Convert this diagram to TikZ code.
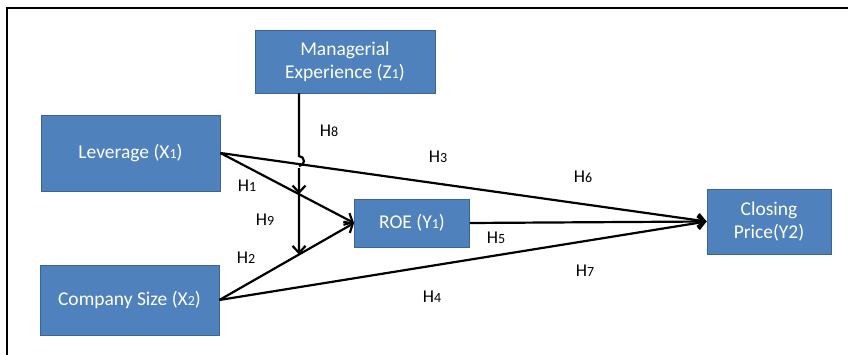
\documentclass[tikz,border=0pt]{standalone}
\usepackage{fontspec}
\setmainfont{Carlito}
\usetikzlibrary{arrows.meta}
\definecolor{boxfill}{HTML}{4F81BD}
\definecolor{boxline}{HTML}{3A6595}
\newcommand{\dg}[1]{{\fontsize{14}{14}\selectfont #1}}
\begin{document}
\begin{tikzpicture}[x=1pt,y=-1pt,
  vbox/.style={draw=boxline,fill=boxfill,line width=0.8pt,text=white,align=center,
    font=\fontsize{19.5}{23}\selectfont,inner sep=0pt},
  conn/.style={line width=2.2pt,draw=black},
  tip/.style={-{Straight Barb[length=7pt,width=13pt]}},
  hlab/.style={font=\fontsize{18}{18}\selectfont,inner sep=0pt}]
\useasboundingbox (0,0) rectangle (848,355);
% frame
\draw[line width=2pt] (6.5,355) -- (6.5,8) -- (848,8);
% boxes
\node[vbox,minimum width=180pt,minimum height=63pt] (z) at (345,61.5) {Managerial\\Experience (Z\dg{1})};
\node[vbox,minimum width=179pt,minimum height=76pt] (lev) at (130.5,153) {Leverage (X\dg{1})};
\node[vbox,minimum width=179pt,minimum height=70pt] (cs) at (129.5,300) {Company Size (X\dg{2})};
\node[vbox,minimum width=115pt,minimum height=48pt] (roe) at (412,223) {ROE (Y\dg{1})};
\node[vbox,minimum width=124pt,minimum height=65pt] (cp) at (769,221.5) {Closing\\Price(Y2)};
% points on lines
\coordinate (top) at (299,93);
\coordinate (bot) at (299,300);
\coordinate (h1pt) at (intersection cs: first line={(lev.east)--(roe.west)}, second line={(top)--(bot)});
\coordinate (h2pt) at (intersection cs: first line={(cs.east)--(roe.west)}, second line={(top)--(bot)});
\coordinate (jp) at (intersection cs: first line={(lev.east)--(cp.west)}, second line={(top)--(bot)});
% connectors
\draw[conn,tip] (lev.east) -- (cp.west);
\draw[conn,tip] (cs.east) -- (cp.west);
\draw[conn,tip] (roe.east) -- (cp.west);
\draw[conn,tip] (lev.east) -- (roe.west);
\draw[conn,tip] (cs.east) -- (roe.west);
\draw[conn] (z.south -| top) -- ([yshift=8pt]jp) arc[start angle=90,end angle=-90,radius=5pt];
\draw[conn,tip] ([yshift=-4pt]jp) -- (h1pt);
\draw[conn,tip] (h1pt) -- (h2pt);
% labels
\node[hlab] (l8) at (329,131) {H\dg{8}};
\node[hlab] (l3) at (438,157) {H\dg{3}};
\node[hlab] (l6) at (583,177) {H\dg{6}};
\node[hlab] (l1) at (247,186) {H\dg{1}};
\node[hlab] (l9) at (265,220) {H\dg{9}};
\node[hlab] (l2) at (246,258) {H\dg{2}};
\node[hlab] (l5) at (496,238) {H\dg{5}};
\node[hlab] (l7) at (585,271) {H\dg{7}};
\node[hlab] (l4) at (432,297) {H\dg{4}};
\end{tikzpicture}
\end{document}
